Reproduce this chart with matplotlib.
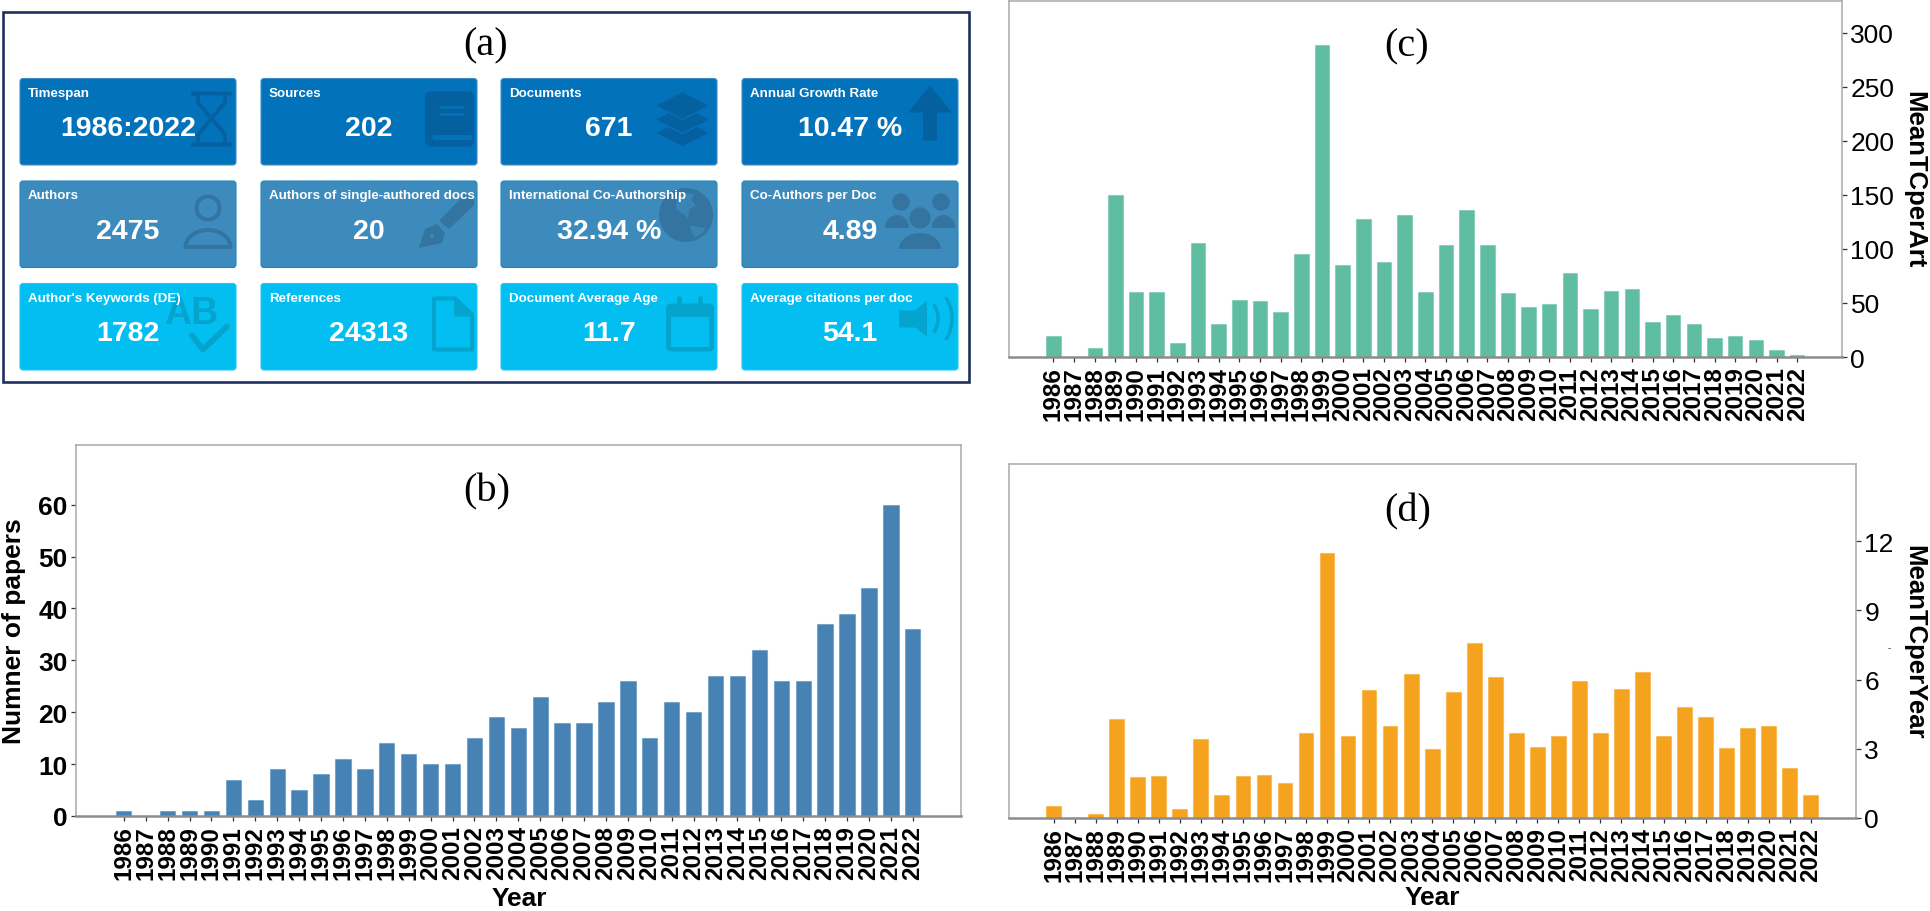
import numpy as np
import matplotlib
matplotlib.use("Agg")
import matplotlib.pyplot as plt
from matplotlib.patches import FancyBboxPatch, Rectangle, Polygon, Circle

W, H = 1930, 912
plt.rcParams['font.family'] = ['Liberation Sans', 'DejaVu Sans']

years = [str(y) for y in range(1986, 2023)]
papers = [1, 0, 1, 1, 1, 7, 3, 9, 5, 8, 11, 9, 14, 12, 10, 10, 15, 19, 17, 23, 18, 18, 22, 26, 15,
          22, 20, 27, 27, 32, 26, 26, 37, 39, 44, 60, 36]
mean_tc_art = [19, 0, 8, 150, 60, 60, 13, 105.5, 31, 53, 52, 41.5, 95.5, 288.5, 85.5, 128, 88, 131,
               60, 104, 136, 104, 59, 46, 49.5, 77.5, 44.5, 61.5, 63, 32, 38.5, 31, 18, 19, 16, 6.5, 2]
mean_tc_year = [0.5, 0, 0.17, 4.29, 1.76, 1.82, 0.41, 3.41, 1.0, 1.84, 1.85, 1.53, 3.68, 11.5, 3.56,
                5.57, 4.0, 6.24, 3.0, 5.45, 7.6, 6.13, 3.67, 3.08, 3.56, 5.96, 3.7, 5.6, 6.33, 3.55,
                4.8, 4.4, 3.03, 3.9, 4.0, 2.15, 1.0]

card_titles = [["Timespan", "Sources", "Documents", "Annual Growth Rate"],
               ["Authors", "Authors of single-authored docs", "International Co-Authorship", "Co-Authors per Doc"],
               ["Author's Keywords (DE)", "References", "Document Average Age", "Average citations per doc"]]
card_values = [["1986:2022", "202", "671", "10.47 %"],
               ["2475", "20", "32.94 %", "4.89"],
               ["1782", "24313", "11.7", "54.1"]]
card_colors = ["#0272BA", "#3D8BBD", "#03BFF1"]
icon_colors = ["#05609F", "#3374A0", "#04A4CF"]
edge_colors = ["#3F8FC8", "#1E88BE", "#25C6F2"]

fig = plt.figure(figsize=(W / 100, H / 100), dpi=100, facecolor="white")


def px_axes(l, t, r, b):
    return fig.add_axes([l / W, 1 - b / H, (r - l) / W, (b - t) / H])


def bar_panel(box, values, color, xlim, ymax, yticks, side):
    ax = px_axes(*box)
    pos = np.arange(len(years))
    ax.bar(pos, values, width=0.7, color=color, edgecolor=matplotlib.colors.to_rgba(color, 0.45), linewidth=0.8)
    ax.set_xlim(*xlim)
    ax.set_ylim(0, ymax)
    ax.set_xticks(pos)
    ax.set_xticklabels(years, rotation=90, fontsize=17.5, fontweight="bold")
    ax.set_yticks(yticks)
    ax.tick_params(axis="x", length=3.6, width=0.9, color="#333333", pad=3)
    ax.tick_params(axis="y", length=3.6, width=0.9, color="#333333", pad=2.5, labelsize=19)
    for lb in ax.get_yticklabels():
        lb.set_fontweight("bold")
    if side == "right":
        ax.yaxis.tick_right()
    for s in ax.spines.values():
        s.set_color("#A8A8A8")
        s.set_linewidth(1.1)
    ax.spines["bottom"].set_color("#8C8C8C")
    ax.spines["bottom"].set_linewidth(1.8)
    return ax


bar_panel((76, 446, 961, 817), papers, "#4682B4", (-2.18, 38.2), 71.5, range(0, 61, 10), "left")
bar_panel((1009, 2, 1842, 358), mean_tc_art, "#5FBDA2", (-2.15, 38.17), 329.5, range(0, 301, 50), "right")
bar_panel((1009, 465, 1856, 819), mean_tc_year, "#F5A31F", (-2.12, 38.15), 15.35, range(0, 13, 3), "right")

ov = fig.add_axes([0, 0, 1, 1], facecolor="none")
ov.set_xlim(0, W)
ov.set_ylim(H, 0)
ov.axis("off")

ov.add_patch(Rectangle((3, 12.5), 966, 370.5, fill=False, edgecolor="#1F2F5F", linewidth=1.9))

card_x = [20, 261, 501, 742]
card_y = [79.5, 182, 284.5]
CW, CH = 216, 86.5


def dome(cx, w, y0, y1, n=30):
    t = np.linspace(np.pi, 0, n)
    return [(cx + w * np.cos(a), y1 - (y1 - y0) * np.sin(a)) for a in t]


def draw_icon(row, col, x0, y0, bg, c):
    L = lambda pts: [(x0 + p[0], y0 + p[1]) for p in pts]
    poly = lambda pts, **k: ov.add_patch(Polygon(L(pts), closed=True, **k))
    circ = lambda p, r, **k: ov.add_patch(Circle((x0 + p[0], y0 + p[1]), r, **k))
    rrect = lambda a, b, w, h, rad, **k: ov.add_patch(FancyBboxPatch(
        (x0 + a, y0 + b), w, h, boxstyle=f"round,pad=0,rounding_size={rad}", **k))
    line = lambda pts, lw, col=c: ov.plot(*zip(*L(pts)), color=col, lw=lw, solid_capstyle="round",
                                          solid_joinstyle="round")
    key = (row, col)
    if key == (0, 0):  # hourglass
        rrect(171, 13, 41, 4, 1.5, fc=c, ec="none")
        rrect(171, 64, 41, 4, 1.5, fc=c, ec="none")
        line([(178, 17), (178, 24), (205, 56), (205, 64)], 2.6)
        line([(205, 17), (205, 24), (178, 56), (178, 64)], 2.6)
    elif key == (0, 1):  # book
        rrect(164, 13, 49, 55, 6, fc=c, ec="none")
        line([(179, 28), (202, 28)], 2.0, bg)
        line([(179, 35), (202, 35)], 2.0, bg)
        line([(173, 58.5), (209, 58.5)], 3.6, bg)
    elif key == (0, 2):  # layers
        for cy in (54.5, 41, 27):
            poly([(181.5, cy - 14), (209, cy), (181.5, cy + 14), (154, cy)], fc=c, ec=bg, lw=1.0, joinstyle="round")
    elif key == (0, 3):  # arrow
        poly([(188, 7), (210, 34), (195, 34), (195, 62), (181, 62), (181, 34), (166, 34)], fc=c, ec="none")
    elif key == (1, 0):  # person
        circ((188, 27), 11.5, fc="none", ec=c, lw=2.9)
        poly(dome(188, 22.5, 49, 66), fc="none", ec=c, lw=2.9, joinstyle="round")
    elif key == (1, 1):  # pen
        poly([(178, 40), (203, 14), (209, 14), (213, 19), (213, 24), (188, 48)], fc=c, ec="none")
        poly([(158, 67), (164, 48), (176, 43), (184, 52), (181, 62)], fc=c, ec="none")
        circ((171, 55), 1.8, fc=bg, ec="none")
    elif key == (1, 2):  # globe
        circ((185, 34), 27, fc=c, ec="none")
        poly([(176, 17), (184, 12), (193, 13), (190, 19), (195, 24), (188, 29), (187, 37), (182, 33), (175, 28)],
             fc=bg, ec="none", alpha=0.75)
        poly([(189, 44), (197, 46), (205, 47), (200, 53), (194, 56), (190, 50)], fc=bg, ec="none", alpha=0.75)
    elif key == (1, 3):  # team
        circ((159, 21), 8.7, fc=c, ec="none")
        circ((199, 21), 8.7, fc=c, ec="none")
        poly(dome(155, 12, 34, 47), fc=c, ec="none")
        poly(dome(201.5, 12, 34, 47), fc=c, ec="none")
        circ((178, 37), 11.5, fc=c, ec=bg, lw=1.2)
        poly(dome(178, 21, 52, 68), fc=c, ec="none")
    elif key == (2, 0):  # AB + check
        ov.text(x0 + 171, y0 + 40, "AB", color=c, fontsize=27, fontweight="bold", ha="center", va="baseline")
        line([(172, 52), (183, 66), (207, 43)], 4.2)
    elif key == (2, 1):  # document
        poly([(173, 15), (194, 15), (211, 31), (211, 66), (173, 66)], fc="none", ec=c, lw=3.0, joinstyle="round")
        poly([(193, 14), (213, 33), (193, 33)], fc=c, ec="none")
    elif key == (2, 2):  # calendar
        rrect(165, 20, 48, 48, 5, fc=c, ec="none")
        ov.add_patch(Rectangle((x0 + 170, y0 + 33), 38, 30, fc=bg, ec="none"))
        line([(178, 14), (178, 21)], 3.4)
        line([(199, 14), (199, 21)], 3.4)
    elif key == (2, 3):  # speaker
        poly([(157, 27), (173, 27), (185, 17), (185, 53), (173, 44), (157, 44)], fc=c, ec="none")
        for r in (25, 39):
            t = np.radians(np.linspace(-31, 31, 24))
            line([(171 + r * np.cos(a), 35 + r * np.sin(a)) for a in t], 2.6)


for i, y in enumerate(card_y):
    for j, x in enumerate(card_x):
        ov.add_patch(FancyBboxPatch((x, y), CW, CH, boxstyle="round,pad=0,rounding_size=3",
                                    fc=card_colors[i], ec=edge_colors[i], lw=0.8))
        draw_icon(i, j, x, y, card_colors[i], icon_colors[i])
        ov.text(x + 8, y + 14.5, card_titles[i][j], color="white", fontsize=9.6, fontweight="bold",
                ha="left", va="center", zorder=10)
        ov.text(x + CW / 2, y + 50, card_values[i][j], color="white", fontsize=20.5, fontweight="bold",
                ha="center", va="center", zorder=10)

for s, x, y in [("(a)", 486, 46), ("(b)", 487, 492), ("(c)", 1407, 47), ("(d)", 1408, 512)]:
    ov.text(x, y, s, family="Liberation Serif", fontsize=29, ha="center", va="center", color="black")

ov.text(14, 631, "Numner of papers", rotation=90, fontsize=19, fontweight="bold", ha="center", va="center")
ov.text(519, 899, "Year", fontsize=19, fontweight="bold", ha="center", va="center")
ov.text(1432, 898, "Year", fontsize=19, fontweight="bold", ha="center", va="center")
ov.text(1914, 180, "MeanTCperArt", rotation=270, fontsize=18.5, fontweight="bold", ha="center", va="center")
ov.text(1914, 642, "MeanTCperYear", rotation=270, fontsize=18.5, fontweight="bold", ha="center", va="center")
ov.text(1889, 648, "-", fontsize=7, color="#333333", ha="center", va="center")

fig.savefig("out.png", dpi=100)
